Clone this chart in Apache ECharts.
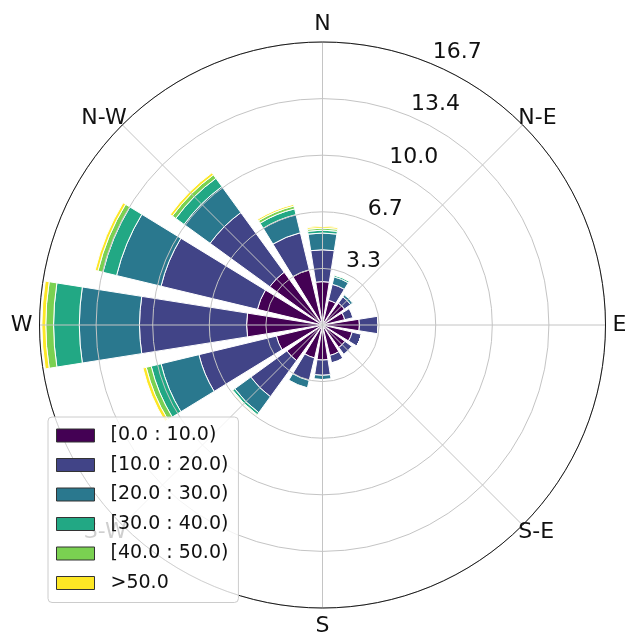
<!DOCTYPE html>
<html><head><meta charset="utf-8">
<script src="https://cdn.jsdelivr.net/npm/echarts@6/dist/echarts.min.js"></script>
<style>html,body{margin:0;padding:0;background:#fff}#c{width:625px;height:635px}</style>
</head><body><div id="c"></div>
<script>
const directions = ['N','NNE','NE','ENE','E','ESE','SE','SSE','S','SSW','SW','WSW','W','WNW','NW','NNW'];
const compassLabels = ['N','N-E','E','S-E','S','S-W','W','N-W'];
const speedBins = ['[0.0 : 10.0)','[10.0 : 20.0)','[20.0 : 30.0)','[30.0 : 40.0)','[40.0 : 50.0)','>50.0'];
const radiusTicks = ['3.3','6.7','10.0','13.4','16.7'];
const binColors = ['#440154','#414487','#2a788e','#22a884','#7ad151','#fde725'];
// frequency (%) per direction, one array per speed bin
const bin0 = [2.56,1.50,1.60,1.35,2.18,1.80,1.64,1.85,2.07,2.00,2.60,2.80,4.48,3.95,3.85,3.35];
const bin1 = [1.88,0.97,0.45,0.50,1.12,0.57,0.50,0.45,0.90,1.37,2.63,4.70,6.32,5.85,4.35,2.25];
const bin2 = [0.99,0.45,0.15,0.05,0,0,0.05,0.03,0.25,0.45,1.17,2.30,3.55,2.70,1.90,1.10];
const bin3 = [0.17,0.10,0.05,0,0,0,0,0,0.03,0.05,0.15,0.60,1.52,0.83,0.60,0.35];
const bin4 = [0.12,0.03,0,0,0,0,0,0,0,0,0.05,0.30,0.46,0.30,0.25,0.17];
const bin5 = [0.10,0.02,0,0,0,0,0,0,0,0,0.02,0.20,0.23,0.17,0.15,0.10];
const bins = [bin0,bin1,bin2,bin3,bin4,bin5];
const radiusMax = 16.7, radiusStep = 3.34;

const chart = echarts.init(document.getElementById('c'), null, {renderer:'canvas'});
const font = 'DejaVu Sans';
const gridColor = '#c4c4c4';
const center = [322.5, 325], R = 283;
function compassLabel(keepDiagonal){
  return function(v){
    if (v >= 360) return '';
    const k = Math.round(v/45);
    const diag = k % 2 === 1;
    return diag === keepDiagonal ? compassLabels[k] : '';
  };
}
const hidden = {axisLine:{show:false}, axisTick:{show:false}, axisLabel:{show:false}, splitLine:{show:false}};
chart.setOption({
  animation:false,
  backgroundColor:'#fff',
  polar:[{center:center, radius:R},{center:center, radius:R},{center:center, radius:R},{center:center, radius:R}],
  angleAxis:[
    {polarIndex:0, type:'category', data:directions, startAngle:101.25, clockwise:true,
     axisLine:{show:true, lineStyle:{color:'#1a1a1a', width:1}}, axisTick:{show:false},
     axisLabel:{show:false}, splitLine:{show:false}, z:4},
    {polarIndex:1, type:'value', min:0, max:360, interval:45, startAngle:90, clockwise:true,
     axisLine:{show:false}, axisTick:{show:false},
     splitLine:{show:true, lineStyle:{color:gridColor, width:1}},
     axisLabel:{show:true, margin:7, align:'center', verticalAlign:'middle', fontSize:22,
       color:'#111', fontFamily:font, formatter:compassLabel(false)}, z:3},
    Object.assign({polarIndex:2, type:'value', min:0, max:360, startAngle:67.5, clockwise:true}, hidden),
    {polarIndex:3, type:'value', min:0, max:360, interval:45, startAngle:90, clockwise:true,
     axisLine:{show:false}, axisTick:{show:false}, splitLine:{show:false},
     axisLabel:{show:true, margin:-6, align:'center', verticalAlign:'middle', fontSize:22,
       color:'#111', fontFamily:font, formatter:compassLabel(true)}, z:3}
  ],
  radiusAxis:[
    {polarIndex:0, type:'value', min:0, max:radiusMax, interval:radiusStep,
     axisLine:{show:false}, axisTick:{show:false}, axisLabel:{show:false},
     splitLine:{show:true, lineStyle:{color:gridColor, width:1}}, z:3},
    Object.assign({polarIndex:1, type:'value', min:0, max:1}, hidden),
    {polarIndex:2, type:'value', min:0, max:radiusMax, interval:radiusStep,
     axisLine:{show:false}, axisTick:{show:false}, splitLine:{show:false},
     axisLabel:{show:true, margin:-2, align:'left', verticalAlign:'bottom', padding:[0,0,1,0],
       fontSize:22, color:'#111', fontFamily:font,
       formatter:function(v, i){ return i===0 ? '' : radiusTicks[i-1]; }}, z:4},
    Object.assign({polarIndex:3, type:'value', min:0, max:1}, hidden)
  ],
  legend:{orient:'vertical', left:48, top:417, data:speedBins, icon:'rect',
    itemWidth:38, itemHeight:13, itemGap:10.5,
    backgroundColor:'rgba(255,255,255,0.8)', borderColor:'#cccccc', borderWidth:1, borderRadius:4,
    padding:[9,10,10,8],
    itemStyle:{borderColor:'#333', borderWidth:1},
    textStyle:{fontSize:19, color:'#111', fontFamily:font, padding:[0,0,0,11]}, z:20},
  series: bins.map(function(d, i){
    return {type:'bar', name:speedBins[i], coordinateSystem:'polar', polarIndex:0, stack:'wind',
      data:d, barCategoryGap:'20%', z:2,
      itemStyle:{color:binColors[i], borderColor:'#ffffff', borderWidth:1},
      emphasis:{disabled:true}};
  })
});
</script></body></html>
